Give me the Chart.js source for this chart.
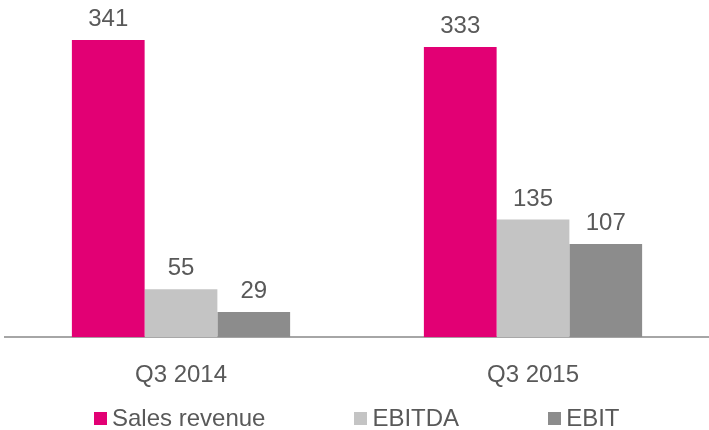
<!DOCTYPE html>
<html>
<head>
<meta charset="utf-8">
<script src="https://cdn.jsdelivr.net/npm/chart.js@4"></script>
<style>
    html, body { margin: 0; padding: 0; background: #fff; }
    #wrap { position: relative; width: 709px; height: 430px; }
    #legend {
        position: absolute; left: 94px; top: 404px;
        display: flex; align-items: center;
        font: 24px 'Liberation Sans', Arial, sans-serif; color: #595959;
    }
    #legend .item { display: flex; align-items: center; margin-right: 89px; }
    #legend .box { width: 13px; height: 13px; margin-right: 5px; }
</style>
</head>
<body>
<div id="wrap">
    <canvas id="barChart"></canvas>
    <div id="legend"></div>
</div>
<script>
const quarters = ["Q3 2014", "Q3 2015"];
const salesRevenue = [341, 333];
const ebitda = [55, 135];
const ebit = [29, 107];

const TEXT_COLOR = "#595959";
const FONT_FAMILY = "'Liberation Sans', Arial, sans-serif";

// writes each bar's value just above it
const valueLabels = {
    id: "valueLabels",
    afterDatasetsDraw(chart) {
        const ctx = chart.ctx;
        ctx.save();
        ctx.fillStyle = TEXT_COLOR;
        ctx.font = `24px ${FONT_FAMILY}`;
        ctx.textAlign = "center";
        ctx.textBaseline = "alphabetic";
        chart.data.datasets.forEach((ds, i) => {
            chart.getDatasetMeta(i).data.forEach((bar, j) => {
                ctx.fillText(ds.data[j], bar.x, bar.y - 14);
            });
        });
        ctx.restore();
    }
};

// legend row under the chart, built from the datasets
const htmlLegend = {
    id: "htmlLegend",
    afterUpdate(chart) {
        const box = document.getElementById("legend");
        box.innerHTML = "";
        chart.data.datasets.forEach(ds => {
            const item = document.createElement("div");
            item.className = "item";
            item.innerHTML = `<span class="box" style="background:${ds.backgroundColor}"></span><span>${ds.label}</span>`;
            box.appendChild(item);
        });
    }
};

new Chart(document.getElementById("barChart").getContext("2d"), {
    type: "bar",
    data: {
        labels: quarters,
        datasets: [
            { label: "Sales revenue", data: salesRevenue, backgroundColor: "#e20074" },
            { label: "EBITDA", data: ebitda, backgroundColor: "#c4c4c4" },
            { label: "EBIT", data: ebit, backgroundColor: "#8c8c8c" }
        ]
    },
    options: {
        responsive: true,
        maintainAspectRatio: false,
        animation: false,
        categoryPercentage: 0.62,
        barPercentage: 1,
        layout: { padding: { top: 6, left: 5, right: 0, bottom: 24 } },
        plugins: {
            tooltip: { enabled: false },
            legend: { display: false }
        },
        scales: {
            x: {
                grid: { display: false },
                border: { display: true, color: "#a6a6a6", width: 2 },
                ticks: {
                    color: TEXT_COLOR,
                    font: { size: 24, family: FONT_FAMILY },
                    padding: 16
                }
            },
            y: {
                display: false,
                min: 0,
                max: 380
            }
        }
    },
    plugins: [valueLabels, htmlLegend]
});
</script>
</body>
</html>
